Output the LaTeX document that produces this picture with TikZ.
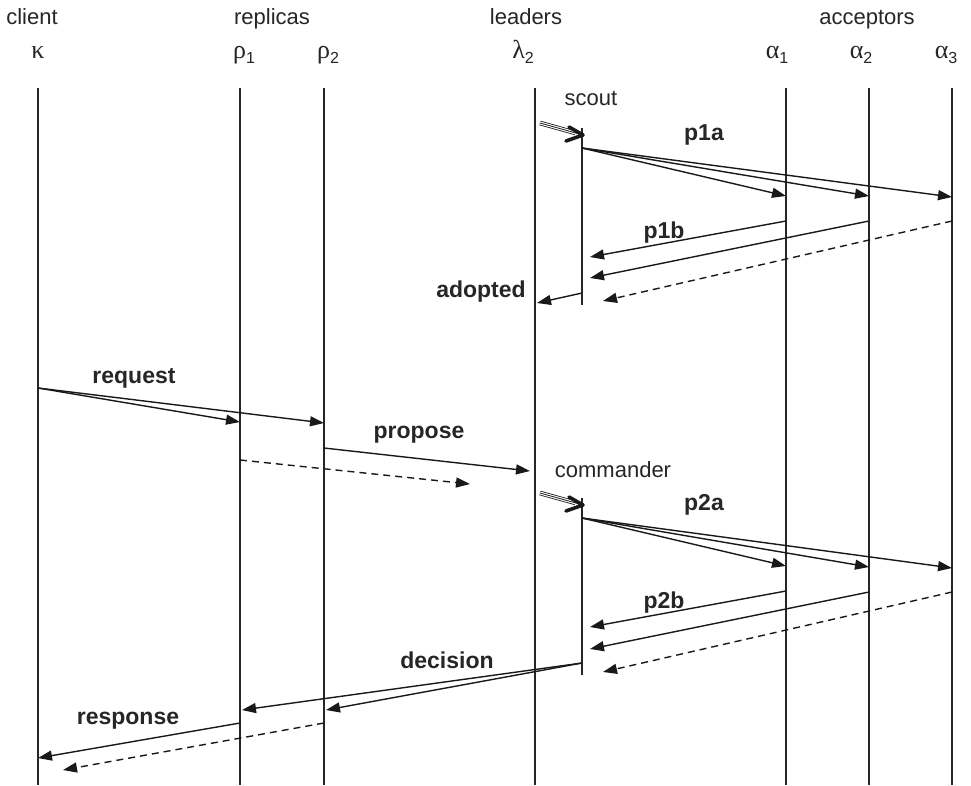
\documentclass[tikz,border=0pt]{standalone}
\usepackage{fontspec}
\setmainfont{Liberation Sans}
\newfontfamily\greekfont{Liberation Serif}
\usetikzlibrary{arrows.meta,calc}
\newcommand\gsub[2]{{\greekfont #1}\raisebox{-5pt}{\fontsize{16}{16}\selectfont #2}}
\begin{document}
\begin{tikzpicture}[x=1pt,y=-1pt,
  life/.style={line width=1.6pt, draw=black!85},
  msg/.style={line width=1.4pt, draw=black!90, -{Triangle[length=14pt,width=10pt]}},
  lostmsg/.style={msg, dash pattern=on 7pt off 5pt},
  lbl/.style={font=\fontsize{23}{26}\selectfont\bfseries, anchor=base, text=black!85, inner sep=0pt},
  hdr/.style={font=\fontsize{22}{26}\selectfont, anchor=base, text=black!85, inner sep=0pt},
  grk/.style={font=\fontsize{26}{28}\selectfont, anchor=base, text=black!85, inner sep=0pt},
  spawn/.style={line width=0.8pt, draw=black!90},
  chevron/.style={line width=3.6pt, line join=round, line cap=round, draw=black!90}]
\useasboundingbox (0,0) rectangle (971,785);
\fill[white] (0,0) rectangle (971,785);

% headers
\node[hdr] (hclient) at (32,24) {client};
\node[hdr] (hrep) at (272,24) {replicas};
\node[hdr] (hlead) at (526,24) {leaders};
\node[hdr] (hacc) at (867,24) {acceptors};

\node[grk] (gk) at (38,58) {{\greekfont κ}};
\node[grk] (gr1) at (244,58) {\gsub{ρ}{1}};
\node[grk] (gr2) at (328,58) {\gsub{ρ}{2}};
\node[grk] (gl2) at (523,58) {\gsub{λ}{2}};
\node[grk] (ga1) at (777,58) {\gsub{α}{1}};
\node[grk] (ga2) at (861,58) {\gsub{α}{2}};
\node[grk] (ga3) at (946,58) {\gsub{α}{3}};

% lifelines
\foreach \n/\x in {k/38, r1/240, r2/324, l2/535, a1/786, a2/869, a3/952}{
  \coordinate (\n-t) at (\x,88);
  \coordinate (\n-b) at (\x,785);
  \draw[life] (\n-t) -- (\n-b);
}
% scout and commander
\coordinate (sc-t) at (582,128); \coordinate (sc-b) at (582,305);
\coordinate (cm-t) at (582,498); \coordinate (cm-b) at (582,675);
\draw[life] (sc-t) -- (sc-b);
\draw[life] (cm-t) -- (cm-b);

% spawn arrows
\coordinate (sa-s) at (540,123); \coordinate (sa-e) at (583,135);
\coordinate (ca-s) at (540,493); \coordinate (ca-e) at (583,505);
\foreach \s/\e in {sa-s/sa-e, ca-s/ca-e}{
  \draw[spawn, double distance=3pt] (\s) -- ($(\e)!8pt!(\s)$);
  \draw[spawn] (\s) -- ($(\e)!4pt!(\s)$);
  \draw[chevron] ($(\e)+(-14,-8)$) -- (\e) -- ($(\e)+(-17,6)$);
}
\node[hdr] (lscout) at (591,105) {scout};
\node[hdr] (lcomm) at (613,477) {commander};

% phase 1
\coordinate (p1a-s) at (582,148);
\coordinate (p1a-1) at (786,196); \coordinate (p1a-2) at (869,196); \coordinate (p1a-3) at (952,197);
\draw[msg] (p1a-s) -- (p1a-1);
\draw[msg] (p1a-s) -- (p1a-2);
\draw[msg] (p1a-s) -- (p1a-3);
\node[lbl] (lp1a) at (704,140) {p1a};

\coordinate (p1b-1) at (786,221); \coordinate (p1b-1e) at (590,257);
\coordinate (p1b-2) at (869,221); \coordinate (p1b-2e) at (590,278);
\coordinate (p1b-3) at (952,221); \coordinate (p1b-3e) at (603,301);
\draw[msg] (p1b-1) -- (p1b-1e);
\draw[msg] (p1b-2) -- (p1b-2e);
\draw[lostmsg] (p1b-3) -- (p1b-3e);
\node[lbl] (lp1b) at (664,238) {p1b};

\coordinate (ad-s) at (582,293); \coordinate (ad-e) at (537,303);
\draw[msg] (ad-s) -- (ad-e);
\node[lbl] (lad) at (481,297) {adopted};

% request / propose
\coordinate (rq-s) at (38,388);
\coordinate (rq-1) at (240,422); \coordinate (rq-2) at (324,423);
\draw[msg] (rq-s) -- (rq-1);
\draw[msg] (rq-s) -- (rq-2);
\node[lbl] (lrq) at (134,383) {request};

\coordinate (pp-s) at (324,448); \coordinate (pp-e) at (530,471);
\coordinate (pd-s) at (240,460); \coordinate (pd-e) at (470,484);
\draw[msg] (pp-s) -- (pp-e);
\draw[lostmsg] (pd-s) -- (pd-e);
\node[lbl] (lpp) at (419,438) {propose};

% phase 2
\coordinate (p2a-s) at (582,518);
\coordinate (p2a-1) at (786,566); \coordinate (p2a-2) at (869,567); \coordinate (p2a-3) at (952,568);
\draw[msg] (p2a-s) -- (p2a-1);
\draw[msg] (p2a-s) -- (p2a-2);
\draw[msg] (p2a-s) -- (p2a-3);
\node[lbl] (lp2a) at (704,510) {p2a};

\coordinate (p2b-1) at (786,591); \coordinate (p2b-1e) at (590,627);
\coordinate (p2b-2) at (869,592); \coordinate (p2b-2e) at (590,649);
\coordinate (p2b-3) at (952,592); \coordinate (p2b-3e) at (603,672);
\draw[msg] (p2b-1) -- (p2b-1e);
\draw[msg] (p2b-2) -- (p2b-2e);
\draw[lostmsg] (p2b-3) -- (p2b-3e);
\node[lbl] (lp2b) at (664,608) {p2b};

% decision / response
\coordinate (dc-s) at (582,663);
\coordinate (dc-1) at (242,710); \coordinate (dc-2) at (326,710);
\draw[msg] (dc-s) -- (dc-1);
\draw[msg] (dc-s) -- (dc-2);
\node[lbl] (ldc) at (447,668) {decision};

\coordinate (rs-s) at (240,723); \coordinate (rs-e) at (38,758);
\coordinate (rd-s) at (324,723); \coordinate (rd-e) at (63,770);
\draw[msg] (rs-s) -- (rs-e);
\draw[lostmsg] (rd-s) -- (rd-e);
\node[lbl] (lrs) at (128,724) {response};
\end{tikzpicture}
\end{document}
